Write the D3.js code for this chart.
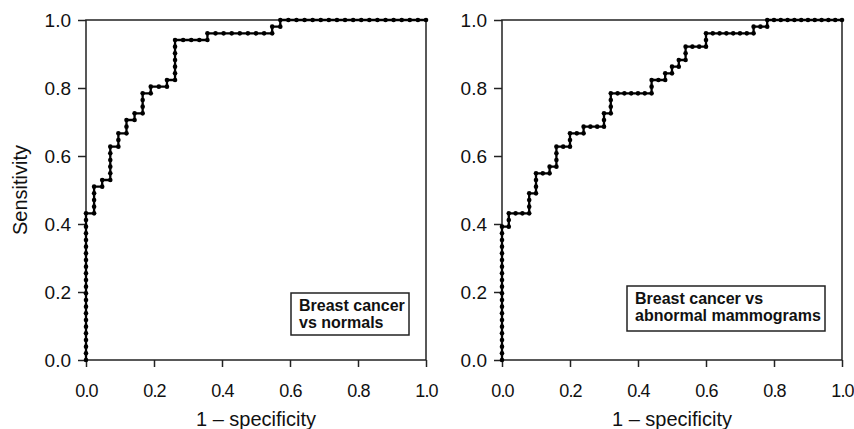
<!DOCTYPE html>
<html>
<head>
<meta charset="utf-8">
<script src="https://cdn.jsdelivr.net/npm/d3@7"></script>
<style>
  body { margin: 0; background: #fff; }
  svg text { font-family: "Liberation Sans", Arial, sans-serif; fill: #111; }
</style>
</head>
<body>
<div class="chart"></div>
<script>
// ROC corner points, as case counts (false positives, true positives)
var normalsFP = [0,0,1,1,2,2,3,3,4,4,5,5,6,6,7,7,8,8,10,10,11,11,15,15,23,23,24,24,42];
var normalsTP = [0,22,22,26,26,27,27,32,32,34,34,36,36,37,37,40,40,41,41,42,42,48,48,49,49,50,50,51,51];
var normalsN = 42, cancerN = 51;

var mammoFP = [0,0,1,1,4,4,5,5,7,7,8,8,10,10,12,12,15,15,16,16,22,22,24,24,25,25,26,26,27,27,30,30,37,37,39,39,50];
var mammoTP = [0,20,20,22,22,25,25,28,28,29,29,32,32,34,34,35,35,37,37,40,40,42,42,43,43,44,44,45,45,47,47,49,49,50,50,51,51];
var mammoN = 50;

var ticks = [0, 0.2, 0.4, 0.6, 0.8, 1.0];
var legendLines = [["Breast cancer", "vs normals"], ["Breast cancer vs", "abnormal mammograms"]];

var svg = d3.select(".chart")
    .append("svg")
    .attr("width", 854)
    .attr("height", 429)

// one dot per case: walk the curve one count at a time
function casePoints(fp, tp) {
  var pts = [[fp[0], tp[0]]];
  for (var i = 1; i < fp.length; i++) {
    var a = pts[pts.length - 1];
    var dx = Math.sign(fp[i] - a[0]), dy = Math.sign(tp[i] - a[1]);
    var x = a[0], y = a[1];
    while (x != fp[i] || y != tp[i]) {
      x += dx; y += dy;
      pts.push([x, y]);
    }
  }
  return pts;
}

function panel(x0, fp, tp, nNeg, lines, box) {
  var x = d3.scaleLinear().domain([0, 1]).range([x0, x0 + 340]);
  var y = d3.scaleLinear().domain([0, 1]).range([360, 20]);
  var g = svg.append("g");

  g.append("rect")
    .attr("x", x0).attr("y", 20).attr("width", 340).attr("height", 340)
    .attr("fill", "none").attr("stroke", "#222").attr("stroke-width", 1.5)

  var ya = g.append("g")
    .attr("transform", "translate(" + x0 + ",0)")
    .call(d3.axisLeft(y).tickValues(ticks).tickFormat(d3.format(".1f")).tickSize(8).tickSizeOuter(0).tickPadding(7))
  var xa = g.append("g")
    .attr("transform", "translate(0,360)")
    .call(d3.axisBottom(x).tickValues(ticks).tickFormat(d3.format(".1f")).tickSize(7).tickSizeOuter(0).tickPadding(17))
  g.selectAll(".domain").remove();
  g.selectAll(".tick line").attr("stroke", "#222").attr("stroke-width", 1.5);
  ya.selectAll(".tick text").style("font-size", "19px").attr("fill", "#111");
  // the bottom labels are a narrower face in the original
  xa.selectAll(".tick text").style("font-size", "18px").style("letter-spacing", "-0.8px").attr("fill", "#111");

  g.append("text")
    .attr("x", x0 + 170).attr("y", 426)
    .attr("text-anchor", "middle")
    .style("font-size", "20px")
    .text("1 \u2013 specificity")

  var pts = casePoints(fp, tp).map(function (p) { return [p[0] / nNeg, p[1] / cancerN]; });

  g.append("path")
    .datum(pts)
    .attr("fill", "none").attr("stroke", "#000").attr("stroke-width", 2.3)
    .attr("d", d3.line().x(function (d) { return x(d[0]); }).y(function (d) { return y(d[1]); }))

  g.selectAll("circle")
    .data(pts)
    .enter()
    .append("circle")
    .attr("cx", function (d) { return x(d[0]); })
    .attr("cy", function (d) { return y(d[1]); })
    .attr("r", 2.3)
    .attr("fill", "#000")

  g.append("rect")
    .attr("x", box[0]).attr("y", box[1]).attr("width", box[2]).attr("height", box[3])
    .attr("fill", "#fff").attr("stroke", "#222").attr("stroke-width", 1.5)
  g.selectAll(".leg")
    .data(lines)
    .enter()
    .append("text")
    .attr("x", box[0] + 8)
    .attr("y", function (d, i) { return box[1] + 18 + i * 17; })
    .style("font-size", "16px")
    .style("font-weight", "bold")
    .text(function (d) { return d; })
}

panel(86, normalsFP, normalsTP, normalsN, legendLines[0], [291, 293, 118, 42]);
panel(502, mammoFP, mammoTP, mammoN, legendLines[1], [627, 286, 198, 45]);

svg.append("text")
  .attr("transform", "translate(27,190) rotate(-90)")
  .attr("text-anchor", "middle")
  .style("font-size", "20px")
  .text("Sensitivity")
</script>
</body>
</html>
